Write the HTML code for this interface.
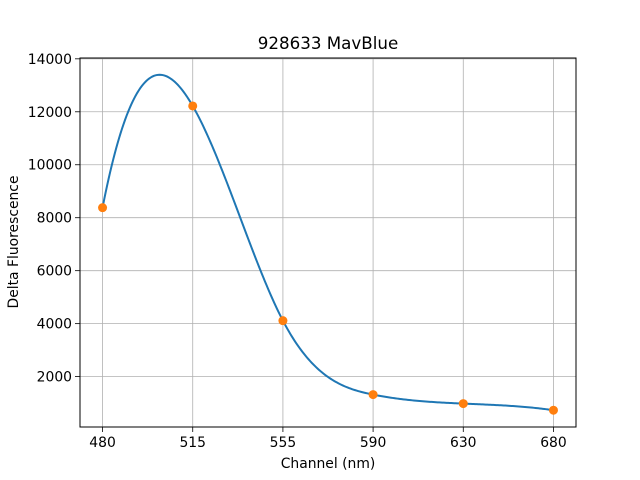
<!DOCTYPE html>
<html><head><meta charset="utf-8"><style>
body{margin:0;background:#fff}
svg{display:block;font-family:"DejaVu Sans","Liberation Sans",sans-serif}
</style></head><body>
<svg id="chart" width="640" height="480" viewBox="0 0 640 480">
<rect x="0" y="0" width="640" height="480" fill="#fff"/>
<text x="328" y="49" font-size="16.7" text-anchor="middle">928633 MavBlue</text>
<g id="grid"></g>
<g id="series"></g>
<rect x="80" y="58" width="496" height="369" fill="none" stroke="#000" stroke-width="1"/>
<g id="ticks"></g>
<text x="328" y="468" font-size="13.9" text-anchor="middle">Channel (nm)</text>
<text transform="translate(18,242) rotate(-90)" font-size="13.9" text-anchor="middle">Delta Fluorescence</text>
</svg>
<script>
const categories = ["480","515","555","590","630","680"];
const values = [8380, 12220, 4113, 1320, 980, 730];
const yTicks = [2000, 4000, 6000, 8000, 10000, 12000, 14000];

const NS = "http://www.w3.org/2000/svg";
const L = 80, R = 576, T = 58, B = 427;
const n = values.length;

// not-a-knot cubic spline (equal spacing h=1)
function spline(y) {
  const N = y.length, A = [], b = [];
  for (let i = 0; i < N; i++) { A.push(new Array(N).fill(0)); b.push(0); }
  A[0][0] = 1; A[0][1] = -2; A[0][2] = 1;
  A[N-1][N-1] = 1; A[N-1][N-2] = -2; A[N-1][N-3] = 1;
  for (let i = 1; i < N-1; i++) {
    A[i][i-1] = 1; A[i][i] = 4; A[i][i+1] = 1;
    b[i] = 6 * (y[i-1] - 2*y[i] + y[i+1]);
  }
  for (let c = 0; c < N; c++) {
    let p = c;
    for (let r = c+1; r < N; r++) if (Math.abs(A[r][c]) > Math.abs(A[p][c])) p = r;
    [A[c], A[p]] = [A[p], A[c]]; [b[c], b[p]] = [b[p], b[c]];
    for (let r = 0; r < N; r++) if (r !== c) {
      const f = A[r][c] / A[c][c];
      for (let k = c; k < N; k++) A[r][k] -= f * A[c][k];
      b[r] -= f * b[c];
    }
  }
  const M = b.map((v, i) => v / A[i][i]);
  return function(x) {
    let i = Math.min(Math.floor(x), N-2); const t = x - i;
    return M[i]*(1-t)**3/6 + M[i+1]*t**3/6 + (y[i]-M[i]/6)*(1-t) + (y[i+1]-M[i+1]/6)*t;
  };
}
const f = spline(values);
const curve = [];
for (let k = 0; k <= 300; k++) { const x = k/300*(n-1); curve.push([x, f(x)]); }
let yMin = Math.min(...curve.map(p => p[1])), yMax = Math.max(...curve.map(p => p[1]));
const pad = 0.05 * (yMax - yMin); yMin -= pad; yMax += pad;
const xMin = -0.25, xMax = n - 1 + 0.25;
const sx = x => L + (x - xMin) / (xMax - xMin) * (R - L);
const sy = v => B - (v - yMin) / (yMax - yMin) * (B - T);

const grid = document.getElementById('grid');
const ticks = document.getElementById('ticks');
const series = document.getElementById('series');
function mk(tag, attrs, parent) {
  const e = document.createElementNS(NS, tag);
  for (const k in attrs) e.setAttribute(k, attrs[k]);
  parent.appendChild(e); return e;
}
categories.forEach((c, i) => {
  const x = sx(i);
  const g = mk('line', {x1:x, x2:x, y1:T, y2:B, stroke:'#b0b0b0', 'stroke-width':0.8}, grid);
  
  
  const t = mk('line', {x1:x, x2:x, y1:B, y2:B+5, stroke:'#000', 'stroke-width':0.8}, ticks);
  
  
  const l = mk('text', {x:x, y:B+20, 'font-size':13.9, 'text-anchor':'middle'}, ticks);
  l.textContent = c;
  
  
});
yTicks.forEach(v => {
  const y = sy(v);
  const g = mk('line', {x1:L, x2:R, y1:y, y2:y, stroke:'#b0b0b0', 'stroke-width':0.8}, grid);
  
  
  const t = mk('line', {x1:L-5, x2:L, y1:y, y2:y, stroke:'#000', 'stroke-width':0.8}, ticks);
  
  
  const l = mk('text', {x:L-8, y:y+5, 'font-size':13.9, 'text-anchor':'end'}, ticks);
  l.textContent = v;
  
  
});
const d = curve.map((p, k) => (k ? 'L' : 'M') + sx(p[0]).toFixed(2) + ' ' + sy(p[1]).toFixed(2)).join(' ');
const path = mk('path', {d:d, fill:'none', stroke:'#1f77b4', 'stroke-width':2}, series);


values.forEach((v, i) => {
  const c = mk('circle', {cx:sx(i), cy:sy(v), r:4.5, fill:'#ff7f0e'}, series);
  
  
});
</script>
</body></html>
